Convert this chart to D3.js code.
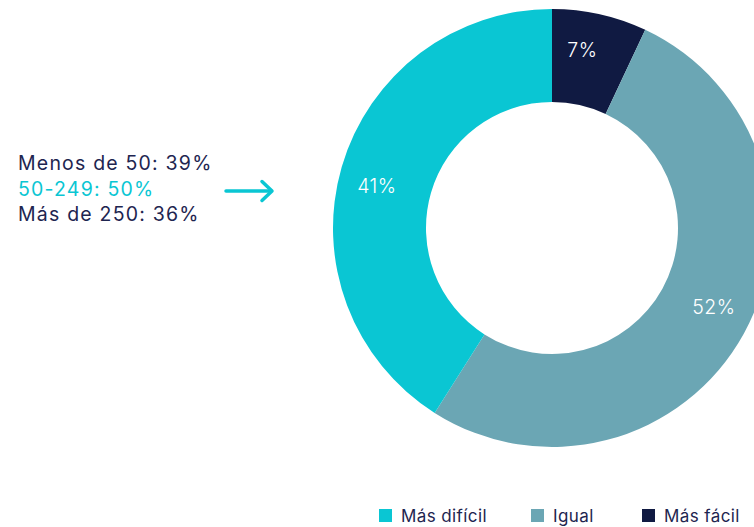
<!DOCTYPE html>
<html>
<head>
<meta charset="utf-8">
<script src="https://cdn.jsdelivr.net/npm/d3@7"></script>
<style>
  body { margin: 0; background: #fff; }
  svg { font-family: Inter, "Noto Sans", sans-serif; }
</style>
</head>
<body>
<div class="chart"></div>
<script>
// datos
const categories = ["Más fácil", "Igual", "Más difícil"];
const values = [7, 52, 41];
const colors = ["#101a42", "#6ba6b4", "#0ac6d3"];
const legendOrder = ["Más difícil", "Igual", "Más fácil"];
const noteLines = ["Menos de 50: 39%", "50-249: 50%", "Más de 250: 36%"];
const noteColors = ["#1e2550", "#0ac6d3", "#1e2550"];

const svgWidth = 754, svgHeight = 527;
const cx = 552, cy = 228, outerR = 219, innerR = 126, labelR = 180;

let svg = d3.select(".chart").append("svg")
    .attr("width", svgWidth)
    .attr("height", svgHeight);

const color = d3.scaleOrdinal().domain(categories).range(colors);

const pie = d3.pie().sort(null).value(d => d.value);
const arcs = pie(categories.map((c, i) => ({ cat: c, value: values[i] })));
const arc = d3.arc().innerRadius(innerR).outerRadius(outerR);
const labelArc = d3.arc().innerRadius(labelR).outerRadius(labelR);
const labelShift = -0.05; // etiquetas algo giradas hacia la izquierda

let donut = svg.append("g").attr("transform", `translate(${cx},${cy})`);

donut.selectAll("path")
    .data(arcs)
    .enter().append("path")
    .attr("d", arc)
    .attr("fill", d => color(d.data.cat));

donut.selectAll("text")
    .data(arcs)
    .enter().append("text")
    .attr("transform", d => {
        const p = labelArc.centroid({ startAngle: d.startAngle + labelShift, endAngle: d.endAngle + labelShift });
        return `translate(${p})`;
    })
    .attr("text-anchor", "middle")
    .attr("dy", "0.35em")
    .attr("fill", "#fff")
    .attr("font-size", 19.5)
    .attr("font-weight", 300)
    .attr("letter-spacing", 0.5)
    .text(d => d.data.value + "%");

// nota a la izquierda
svg.append("g").selectAll("text")
    .data(noteLines)
    .enter().append("text")
    .attr("x", 18)
    .attr("y", (d, i) => 170 + i * 25.5)
    .attr("font-size", 19.5)
    .attr("letter-spacing", 1.2)
    .attr("fill", (d, i) => noteColors[i])
    .text(d => d);

// flecha
let arrow = svg.append("g")
    .attr("stroke", "#0ac6d3")
    .attr("stroke-width", 3.5)
    .attr("stroke-linecap", "round")
    .attr("fill", "none");
arrow.append("line").attr("x1", 226).attr("y1", 191).attr("x2", 271).attr("y2", 191);
arrow.append("path").attr("d", "M262,181.5 L272,191 L262,200.5").attr("stroke-linejoin", "round");

// leyenda
const legendX = [379, 531, 642];
let legend = svg.append("g").selectAll("g")
    .data(legendOrder)
    .enter().append("g")
    .attr("transform", (d, i) => `translate(${legendX[i]},509)`);
legend.append("rect")
    .attr("width", 13).attr("height", 13)
    .attr("fill", d => color(d));
legend.append("text")
    .attr("x", 22).attr("y", 13)
    .attr("font-size", 17)
    .attr("letter-spacing", 0.4)
    .attr("fill", "#1e2550")
    .text(d => d);
</script>
</body>
</html>
